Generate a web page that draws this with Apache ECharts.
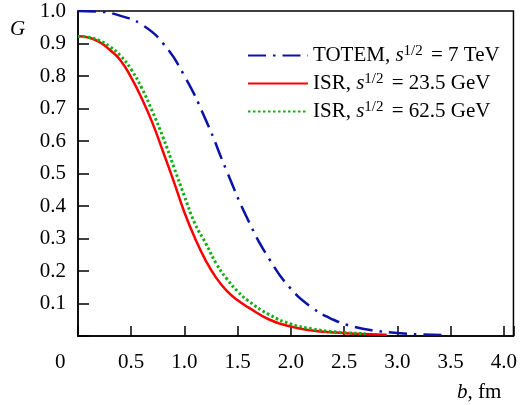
<!DOCTYPE html>
<html>
<head>
<meta charset="utf-8">
<script src="https://cdn.jsdelivr.net/npm/echarts@6/dist/echarts.min.js"></script>
<style>
  html, body { margin: 0; padding: 0; background: #fff; }
  #chart { width: 520px; height: 405px; }
</style>
</head>
<body>
<div id="chart"></div>
<script>
// impact parameter b (fm) and profile G for each curve
const totemB = [0, 0.2, 0.4, 0.6, 0.8, 1.0, 1.2, 1.4, 1.6, 1.8, 2.0, 2.2, 2.4, 2.6, 2.8, 3.0, 3.2, 3.47]
const totemG = [1.0, 0.998, 0.985, 0.958, 0.9, 0.8, 0.665, 0.505, 0.355, 0.235, 0.145, 0.087, 0.05, 0.028, 0.016, 0.009, 0.005, 0.003]

const isr23B = [0, 0.1, 0.2, 0.3, 0.4, 0.5, 0.6, 0.7, 0.8, 0.9, 1.0, 1.1, 1.2, 1.3, 1.4, 1.5, 1.6, 1.8, 2.0, 2.2, 2.4, 2.6, 2.9]
const isr23G = [0.922, 0.918, 0.905, 0.88, 0.848, 0.795, 0.73, 0.655, 0.566, 0.475, 0.38, 0.3, 0.232, 0.178, 0.138, 0.11, 0.088, 0.05, 0.029, 0.017, 0.011, 0.007, 0.004]

const isr62B = [0, 0.1, 0.2, 0.3, 0.4, 0.5, 0.6, 0.7, 0.8, 0.9, 1.0, 1.1, 1.2, 1.3, 1.4, 1.5, 1.6, 1.8, 2.0, 2.2, 2.4, 2.7]
const isr62G = [0.922, 0.919, 0.909, 0.89, 0.862, 0.82, 0.762, 0.69, 0.61, 0.52, 0.43, 0.345, 0.285, 0.222, 0.175, 0.137, 0.108, 0.065, 0.037, 0.022, 0.013, 0.007]

const xTicks = [0.5, 1.0, 1.5, 2.0, 2.5, 3.0, 3.5, 4.0]
const yTicks = [0.1, 0.2, 0.3, 0.4, 0.5, 0.6, 0.7, 0.8, 0.9, 1.0]

const serif = 'Liberation Serif'
const pairs = (xs, ys) => xs.map((x, i) => [x, ys[i]])
const near = (v, list) => list.some(t => Math.abs(t - v) < 1e-6)

const legendText = {
  'TOTEM': '{t|TOTEM, }{i|s}{sup|1/2}{t| = 7 TeV}',
  'ISR 23.5': '{t|ISR, }{i|s}{sup|1/2}{t| = 23.5 GeV}',
  'ISR 62.5': '{t|ISR, }{i|s}{sup|1/2}{t| = 62.5 GeV}'
}

const chart = echarts.init(document.getElementById('chart'))

chart.setOption({
  animation: false,
  grid: {
    left: 78, right: 1, top: 11, bottom: 69,
    show: true, borderColor: '#000', borderWidth: 1.5
  },
  legend: {
    orient: 'vertical',
    left: 242, top: 39,
    itemWidth: 60, itemHeight: 18, itemGap: 6,
    itemStyle: { opacity: 0 },
    formatter: name => legendText[name],
    textStyle: {
      fontFamily: serif, fontSize: 21, color: '#000',
      rich: {
        t: { fontFamily: serif, fontSize: 21, color: '#000' },
        i: { fontFamily: serif, fontSize: 21, fontStyle: 'italic', color: '#000' },
        sup: { fontFamily: serif, fontSize: 15, color: '#000', verticalAlign: 'top', padding: [0, 3, 8, 0] }
      }
    }
  },
  xAxis: {
    type: 'value', min: 0, max: 4.09, interval: 0.5,
    axisLine: { lineStyle: { color: '#000', width: 1.5 } },
    axisTick: { inside: true, length: 10, lineStyle: { color: '#000', width: 1.5 } },
    splitLine: { show: false },
    axisLabel: {
      margin: 16, fontFamily: serif, fontSize: 21, color: '#000',
      formatter: v => near(v, xTicks) ? v.toFixed(1) : ''
    }
  },
  yAxis: {
    type: 'value', min: 0, max: 1.0, interval: 0.1,
    axisLine: { lineStyle: { color: '#000', width: 1.5 } },
    axisTick: { inside: true, length: 11, lineStyle: { color: '#000', width: 1.5 } },
    splitLine: { show: false },
    axisLabel: {
      margin: 12, fontFamily: serif, fontSize: 21, color: '#000',
      formatter: v => near(v, yTicks) ? v.toFixed(1) : ''
    }
  },
  graphic: [
    { type: 'text', left: 55, top: 352, style: { text: '0', font: '21px "Liberation Serif"', fill: '#000' } },
    { type: 'text', left: 10, top: 19, style: { text: 'G', font: 'italic 21px "Liberation Serif"', fill: '#000' } },
    {
      type: 'text', left: 457, top: 382,
      style: {
        text: '{i|b}{t|, fm}',
        rich: {
          i: { font: 'italic 21px "Liberation Serif"', fill: '#000' },
          t: { font: '21px "Liberation Serif"', fill: '#000' }
        }
      }
    }
  ],
  series: [
    {
      name: 'TOTEM', type: 'line', smooth: true, symbol: 'none',
      data: pairs(totemB, totemG),
      lineStyle: { color: '#0a12a8', width: 2.5, type: [18, 7, 2.5, 7] },
      itemStyle: { color: '#0a12a8' }
    },
    {
      name: 'ISR 23.5', type: 'line', smooth: true, symbol: 'none',
      data: pairs(isr23B, isr23G),
      lineStyle: { color: '#ff0000', width: 2.5 },
      itemStyle: { color: '#ff0000' }
    },
    {
      name: 'ISR 62.5', type: 'line', smooth: true, symbol: 'none',
      data: pairs(isr62B, isr62G),
      lineStyle: { color: '#10b010', width: 3, type: [2.5, 2.5] },
      itemStyle: { color: '#10b010' }
    }
  ]
})
</script>
</body>
</html>
